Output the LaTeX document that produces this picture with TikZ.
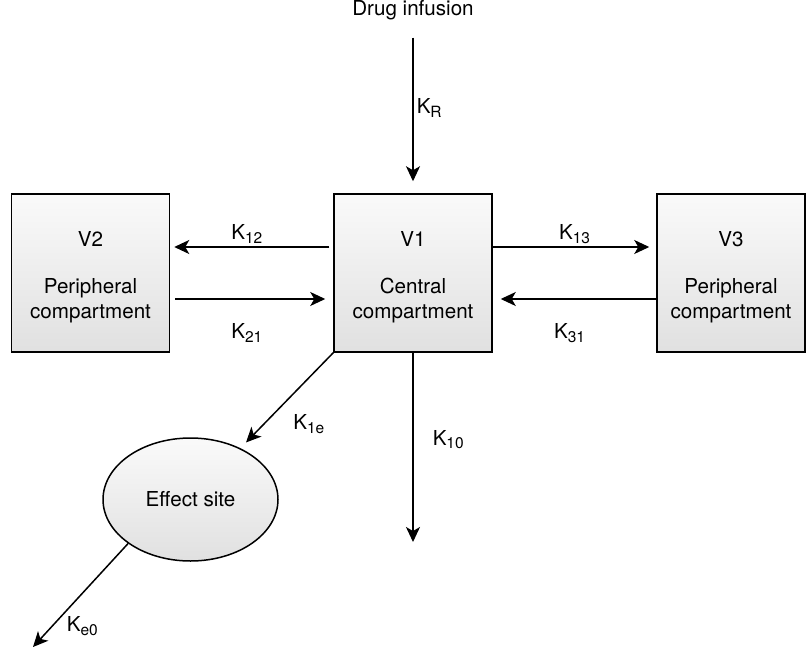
\documentclass[tikz,border=0pt]{standalone}
\usepackage{fontspec}
\setmainfont{TeX Gyre Heros}
\usetikzlibrary{shapes.geometric,arrows.meta}
\newcommand\ksub[1]{K\raisebox{-3.5pt}{\fontsize{15.5}{15}\selectfont#1}}

\begin{document}
\begin{tikzpicture}
[x=1pt,y=-1pt,
 comp/.style={draw,line width=1.5pt,top color=black!2,bottom color=black!12,minimum width=158pt,minimum height=158pt,inner sep=0pt,align=center,font=\fontsize{20.6}{25}\selectfont},
 site/.style={ellipse,draw,line width=1.5pt,top color=black!2,bottom color=black!12,minimum width=175pt,minimum height=123pt,inner sep=0pt,font=\fontsize{20.6}{25}\selectfont},
 flow/.style={line width=1.5pt,-{Stealth[length=15pt,width=14pt,inset=4pt]}},
 lab/.style={font=\fontsize{20.6}{25}\selectfont,inner sep=3pt}]
\useasboundingbox (0,0) rectangle (806,653);

\node[lab,anchor=base] (drug) at (413,15) {Drug infusion};
\node[comp] (v2) at (90.5,273) {\rule{0pt}{24pt}V2\\[22pt]Peripheral\\compartment};
\node[comp] (v1) at (413,273) {\rule{0pt}{24pt}V1\\[22pt]Central\\compartment};
\node[comp,minimum width=148pt] (v3) at (731,273) {\rule{0pt}{24pt}V3\\[22pt]Peripheral\\compartment};
\node[site] (eff) at (190.5,499.5) {Effect site};

\coordinate (out10) at (413,542);
\coordinate (oute0) at (33,647);

% infusion and exchange
\draw[flow,shorten <=15pt,shorten >=12pt] (drug) -- (v1) node[lab,midway,right=0pt] {\ksub{R}};
\draw[flow,shorten <=4pt,shorten >=4pt] ([yshift=26pt]v1.west) -- ([yshift=26pt]v2.east) node[lab,midway,above=0pt,xshift=-5pt] {\ksub{12}};
\draw[flow,shorten <=5pt,shorten >=8pt] ([yshift=-26pt]v2.east) -- ([yshift=-26pt]v1.west) node[lab,midway,below=21pt,xshift=-5pt] {\ksub{21}};
\draw[flow,shorten >=7pt] ([yshift=26pt]v1.east) -- ([yshift=26pt]v3.west) node[lab,midway,above=0pt] {\ksub{13}};
\draw[flow,shorten >=8pt] ([yshift=-26pt]v3.west) -- ([yshift=-26pt]v1.east) node[lab,midway,below=21pt,xshift=-5pt] {\ksub{31}};

% elimination
\draw[flow] (v1.south) -- (out10) node[lab,pos=0.46,right=16pt] {\ksub{10}};
\draw[flow,shorten >=8pt] (v1.south west) -- (eff) node[lab,pos=0.75,right=26pt] {\ksub{1e}};
\draw[flow] (eff.south west) -- (oute0) node[lab,pos=0.8,right=11pt] {\ksub{e0}};
\end{tikzpicture}
\end{document}
